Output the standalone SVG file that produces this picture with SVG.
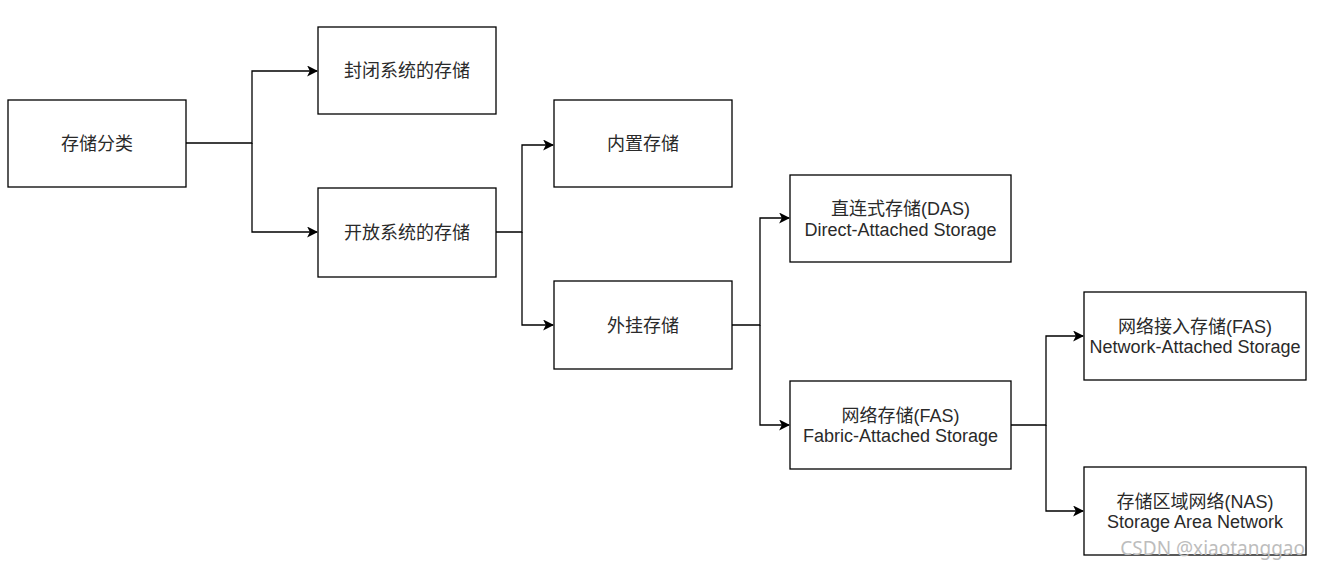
<svg xmlns="http://www.w3.org/2000/svg" width="1318" height="570" viewBox="0 0 1318 570">
<style>
.box{fill:#fff;stroke:#000;stroke-width:1.3}
.t{font-family:"Liberation Sans","Noto Sans CJK SC",sans-serif;font-size:18px;fill:#2a2a2a;text-anchor:middle}
.e{fill:none;stroke:#000;stroke-width:1.3}
.wm{font-family:"Noto Sans","Noto Sans CJK SC",sans-serif;font-size:19px;fill:#bdbdbd;text-anchor:end}
</style>
<defs>
<marker id="a" viewBox="0 0 10 10" refX="9" refY="5" markerWidth="11" markerHeight="11" markerUnits="userSpaceOnUse" orient="auto">
<path d="M0,0 L10,5 L0,10 L2.5,5 Z" fill="#000"/>
</marker>
</defs>
<rect width="1318" height="570" fill="#fff"/>
<g id="connectors">
<path class="e" d="M186,143 H252 V71 H317" marker-end="url(#a)"/>
<path class="e" d="M252,143 V232 H317" marker-end="url(#a)"/>
<path class="e" d="M496,232 H522 V145 H553" marker-end="url(#a)"/>
<path class="e" d="M522,232 V325 H553" marker-end="url(#a)"/>
<path class="e" d="M732,325 H760 V218 H789" marker-end="url(#a)"/>
<path class="e" d="M760,325 V425 H789" marker-end="url(#a)"/>
<path class="e" d="M1011,425 H1046 V336 H1083" marker-end="url(#a)"/>
<path class="e" d="M1046,425 V511 H1083" marker-end="url(#a)"/>
</g>
<g id="n1"><rect class="box" x="8" y="100" width="178" height="87"/><text class="t" x="97" y="150">存储分类</text></g>
<g id="n2"><rect class="box" x="318" y="27" width="178" height="87"/><text class="t" x="407" y="77">封闭系统的存储</text></g>
<g id="n3"><rect class="box" x="318" y="188" width="178" height="89"/><text class="t" x="407" y="239">开放系统的存储</text></g>
<g id="n4"><rect class="box" x="554" y="100" width="178" height="87"/><text class="t" x="643" y="150">内置存储</text></g>
<g id="n5"><rect class="box" x="554" y="281" width="178" height="88"/><text class="t" x="643" y="331.5">外挂存储</text></g>
<g id="n6"><rect class="box" x="790" y="175" width="221" height="87"/><text class="t" x="900.5" y="215">直连式存储(DAS)</text><text class="t" x="900.5" y="235.5">Direct-Attached Storage</text></g>
<g id="n7"><rect class="box" x="790" y="381" width="221" height="88"/><text class="t" x="900.5" y="421.5">网络存储(FAS)</text><text class="t" x="900.5" y="442">Fabric-Attached Storage</text></g>
<g id="n8"><rect class="box" x="1084" y="292" width="222" height="88"/><text class="t" x="1195" y="332.5">网络接入存储(FAS)</text><text class="t" x="1195" y="353">Network-Attached Storage</text></g>
<g id="n9"><rect class="box" x="1084" y="467" width="222" height="88"/><text class="t" x="1195" y="507.5">存储区域网络(NAS)</text><text class="t" x="1195" y="528">Storage Area Network</text></g>
<text class="wm" x="1305" y="555">CSDN @xiaotanggao</text>
</svg>
